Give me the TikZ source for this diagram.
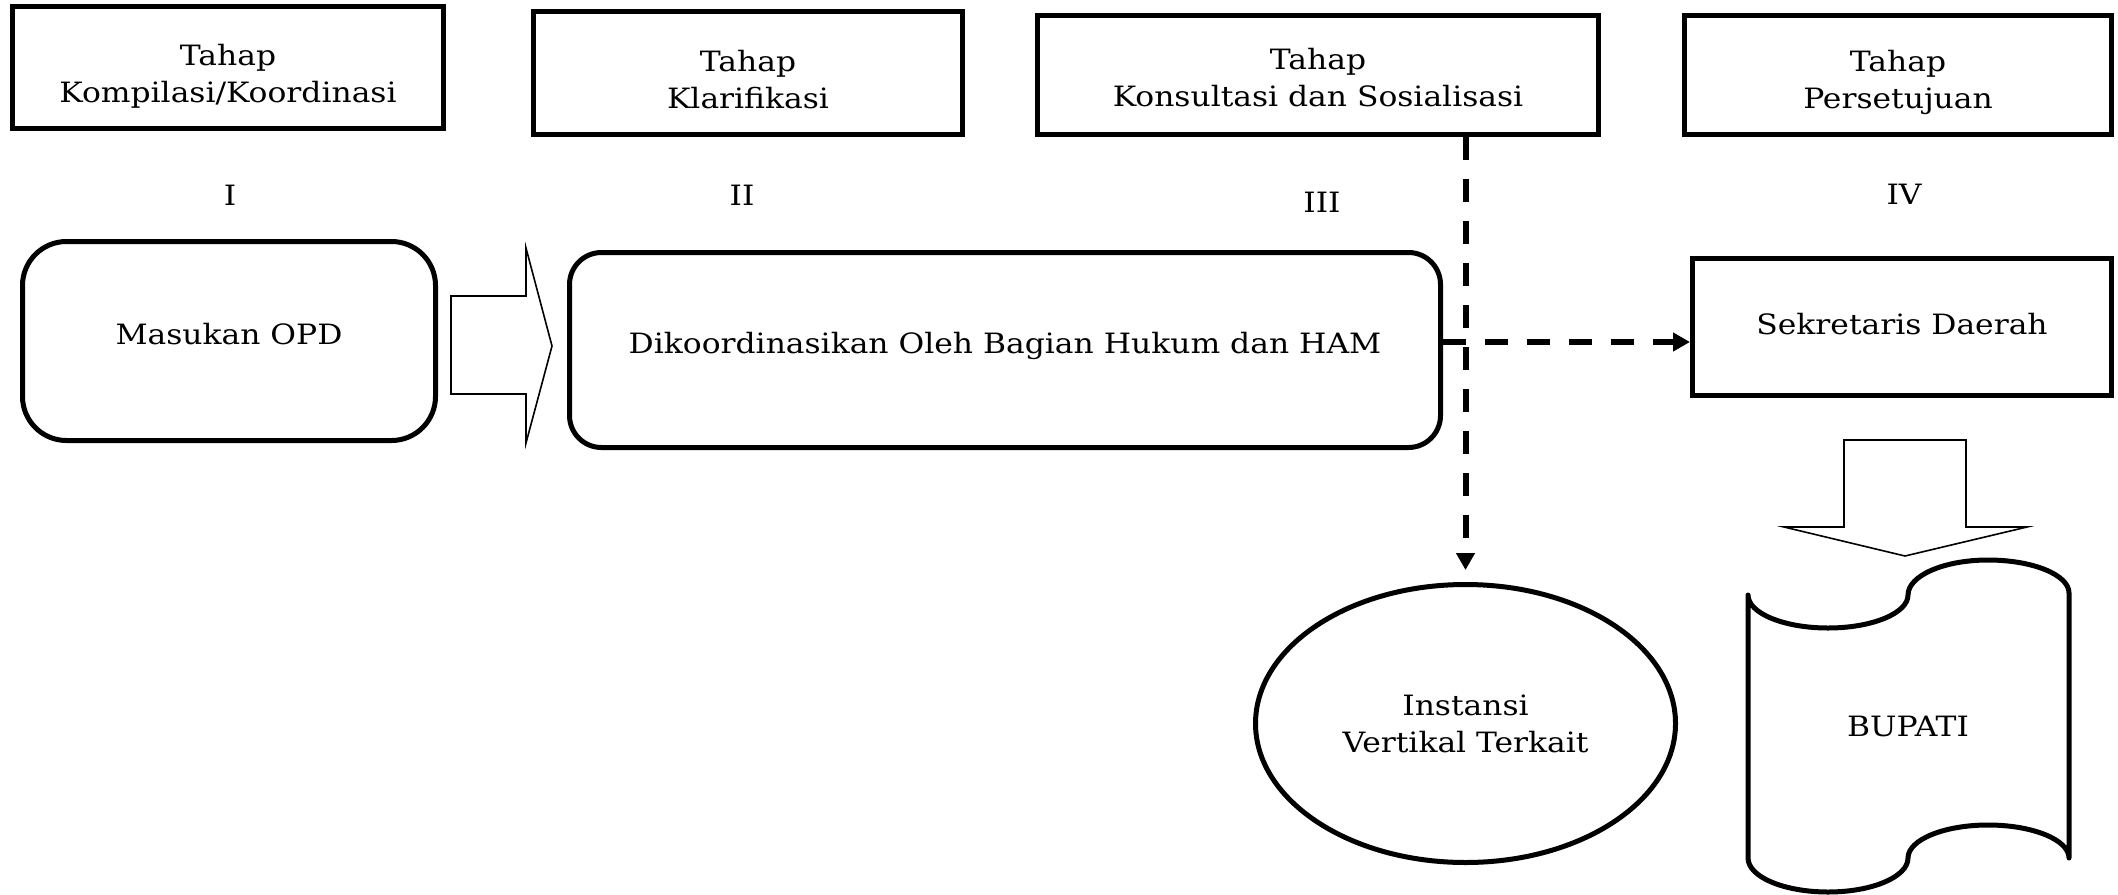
\documentclass[tikz,border=0pt]{standalone}
\usepackage{fontspec}
\setmainfont{DejaVu Serif}[FakeStretch=1.12]
\usetikzlibrary{arrows.meta,shapes.geometric}
\newcommand\diafont{\fontsize{14pt}{18.5pt}\selectfont}
\tikzset{
  stagebox/.style={draw, line width=2.5pt, inner sep=0pt, align=center, font=\diafont},
  roundbox/.style={stagebox, rounded corners=#1},
  plain/.style={inner sep=0pt, align=center, font=\diafont},
  blockarrow/.style={draw, line width=0.8pt, fill=white, line join=miter},
  dashlink/.style={line width=3pt, dash pattern=on 11.5pt off 9.5pt, -{Triangle[length=8.5pt,width=9pt]}},
  scrollline/.style={line width=2.5pt, line join=round}
}
\begin{document}
\begin{tikzpicture}[x=0.5pt, y=-0.5pt]
\useasboundingbox (0,0) rectangle (2118,894);

% stage headers
\node[stagebox, minimum width=215.5pt, minimum height=61pt] (s1) at (228,67.5) {};
\node[plain] (s1t) at (228,76.5) {Tahap\\Kompilasi/Koordinasi};
\node[stagebox, minimum width=214.5pt, minimum height=61.5pt] (s2) at (748,73) {};
\node[plain] (s2t) at (748,80) {Tahap\\Klarifikasi};
\node[stagebox, minimum width=280.5pt, minimum height=59.5pt] (s3) at (1318,75) {};
\node[plain] (s3t) at (1318,78) {Tahap\\Konsultasi dan Sosialisasi};
\node[stagebox, minimum width=213.5pt, minimum height=59.5pt] (s4) at (1898,75) {};
\node[plain] (s4t) at (1898,82) {Tahap\\Persetujuan};

% roman numerals
\node[plain] (r1) at (230,195) {I};
\node[plain] (r2) at (742,195) {II};
\node[plain] (r3) at (1322,202) {III};
\node[plain] (r4) at (1904,194) {IV};

% main boxes
\node[roundbox=22pt, minimum width=206.5pt, minimum height=99.5pt] (opd) at (229,341) {};
\node[plain] (opdt) at (229,334) {Masukan OPD};
\node[roundbox=16pt, minimum width=435.5pt, minimum height=97.5pt] (dik) at (1005,350) {};
\node[plain] (dikt) at (1005,346) {Dikoordinasikan Oleh Bagian Hukum dan HAM};
\node[stagebox, minimum width=209.5pt, minimum height=68.5pt] (sek) at (1902,327) {};
\node[plain] (sekt) at (1902,324.5) {Sekretaris Daerah};
\node[stagebox, ellipse, minimum width=210pt, minimum height=139pt] (ins) at (1465.5,723.5) {Instansi\\Vertikal Terkait};

% scroll shape for BUPATI
\draw[scrollline]
  (1748,858) -- (1748,595)
  .. controls (1748,613.2) and (1783.8,628) .. (1828,628)
  .. controls (1872.2,628) and (1908,613.2) .. (1908,595)
  .. controls (1908,575.7) and (1943.8,560) .. (1988,560)
  .. controls (2032.7,560) and (2069,574.8) .. (2069,593)
  -- (2069,858)
  .. controls (2069,839.8) and (2032.7,825) .. (1988,825)
  .. controls (1943.8,825) and (1908,839.8) .. (1908,858)
  .. controls (1908,876.8) and (1872.2,892) .. (1828,892)
  .. controls (1783.8,892) and (1748,876.8) .. (1748,858) -- cycle;
\node[plain] (bup) at (1908,726) {BUPATI};

% block arrows
\draw[blockarrow] (451,296) -- (526,296) -- (526,248) -- (552,346) -- (526,443) -- (526,394) -- (451,394) -- cycle;
\draw[blockarrow] (1844,440) -- (1966,440) -- (1966,527) -- (2027,527) -- (1905,556) -- (1784,527) -- (1844,527) -- cycle;

% dashed connectors
\coordinate (hy) at (0,342);
\draw[dashlink] (dik.east |- hy) -- (sek.west |- hy);
\draw[dashlink, shorten >=6pt] (s3.south -| ins.north) -- (ins.north);
\end{tikzpicture}
\end{document}
